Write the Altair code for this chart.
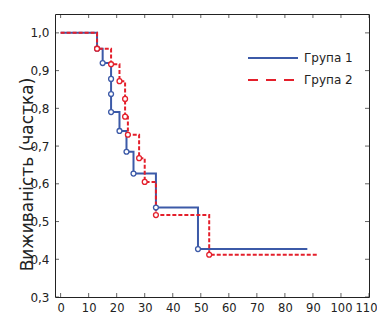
import altair as alt
import pandas as pd

# ---- data ----
groups = ["Група 1", "Група 2"]
colors = ["#3c5aa8", "#e41f2b"]

blue_time = [0, 13, 15, 18, 18, 18, 21, 23.5, 26, 34, 49]
blue_surv = [1.0, 0.958, 0.92, 0.878, 0.838, 0.79, 0.74, 0.685, 0.627, 0.537, 0.427]
blue_last = 88

red_time = [0, 13, 18, 21, 23, 23, 24, 28, 30, 34, 53]
red_surv = [1.0, 0.958, 0.917, 0.872, 0.825, 0.778, 0.73, 0.668, 0.605, 0.517, 0.412]
red_last = 92

x_ticks = [0, 10, 20, 30, 40, 50, 60, 70, 80, 90, 100, 110]
y_ticks = [0.3, 0.4, 0.5, 0.6, 0.7, 0.8, 0.9, 1.0]
x_domain = [-2, 110]
y_domain = [0.3, 1.05]

FONT = "DejaVu Sans"
TXT = "#222222"

# ---- tables ----
blue_line = pd.DataFrame({"t": blue_time + [blue_last], "s": blue_surv + [blue_surv[-1]]})
red_line = pd.DataFrame({"t": red_time + [red_last], "s": red_surv + [red_surv[-1]]})
blue_pts = pd.DataFrame({"t": blue_time[1:], "s": blue_surv[1:]})
red_pts = pd.DataFrame({"t": red_time[1:], "s": red_surv[1:]})

xt_df = pd.DataFrame({"t": x_ticks * 2, "s": [y_domain[0]] * len(x_ticks) + [y_domain[1]] * len(x_ticks)})
yt_df = pd.DataFrame({"t": [x_domain[0]] * len(y_ticks) + [x_domain[1]] * len(y_ticks), "s": y_ticks * 2})
leg_df = pd.DataFrame({"group": groups})

x_enc = alt.X(
    "t:Q",
    scale=alt.Scale(domain=x_domain, nice=False, zero=False),
    axis=alt.Axis(values=x_ticks, title=None, ticks=False, domain=False, grid=False,
                  labelFont=FONT, labelFontSize=11.5, labelColor=TXT, labelPadding=5,
                  labelFlush=1, labelFlushOffset=8, labelOverlap=False),
)
y_enc = alt.Y(
    "s:Q",
    scale=alt.Scale(domain=y_domain, nice=False, zero=False),
    axis=alt.Axis(values=y_ticks, title="Виживаність (частка)", ticks=False, domain=False,
                  grid=False, labelFont=FONT, labelFontSize=12, labelColor=TXT,
                  labelPadding=6, labelFlush=False, labelOverlap=False,
                  labelExpr="replace(format(datum.value, '.1f'), '.', ',')",
                  titleFont=FONT, titleFontSize=17, titleFontWeight="normal",
                  titleColor=TXT, titleX=-28, titleY=160, titleAlign="center",
                  titleBaseline="middle", titleAngle=270),
)

line_b = alt.Chart(blue_line).mark_line(interpolate="step-after", color=colors[0],
                                        strokeWidth=2).encode(x=x_enc, y=y_enc)
line_r = alt.Chart(red_line).mark_line(interpolate="step-after", color=colors[1],
                                       strokeWidth=2, strokeDash=[4, 2]).encode(x=x_enc, y=y_enc)
pts_b = alt.Chart(blue_pts).mark_point(shape="circle", size=24, filled=True, fill="white",
                                       stroke=colors[0], strokeWidth=1.3, opacity=1).encode(x=x_enc, y=y_enc)
pts_r = alt.Chart(red_pts).mark_point(shape="circle", size=24, filled=True, fill="white",
                                      stroke=colors[1], strokeWidth=1.3, opacity=1).encode(x=x_enc, y=y_enc)

xt = alt.Chart(xt_df).mark_tick(orient="vertical", size=8, thickness=1, color=TXT,
                                clip=True).encode(x=x_enc, y=y_enc)
yt = alt.Chart(yt_df).mark_tick(orient="horizontal", size=8, thickness=1, color=TXT,
                                clip=True).encode(x=x_enc, y=y_enc)

legend = alt.Chart(leg_df).transform_filter("false").mark_point(
    filled=False, strokeWidth=2, size=100, opacity=1
).encode(
    color=alt.Color("group:N", scale=alt.Scale(domain=groups, range=colors),
                    legend=alt.Legend(title=None, orient="none", legendX=232, legendY=38,
                                      labelFont=FONT, labelFontSize=12, labelColor=TXT,
                                      symbolStrokeWidth=2, symbolSize=100, labelOffset=5,
                                      rowPadding=10, padding=0)),
    shape=alt.Shape("group:N", scale=alt.Scale(
        domain=groups,
        range=["M-9,0H1", "M-9,0H-7M-5.4,0H-3.4M-1.8,0H0.2"])),
)

chart = alt.layer(xt, yt, line_b, line_r, pts_b, pts_r, legend).properties(
    width=314, height=283,
    autosize=alt.AutoSizeParams(type="none"),
    padding={"left": 47, "top": 6, "right": 8, "bottom": 16},
    background="white",
).configure_view(stroke="#222222", strokeWidth=1)

chart.save("out.html", embed_options={"renderer": "svg", "actions": False})
